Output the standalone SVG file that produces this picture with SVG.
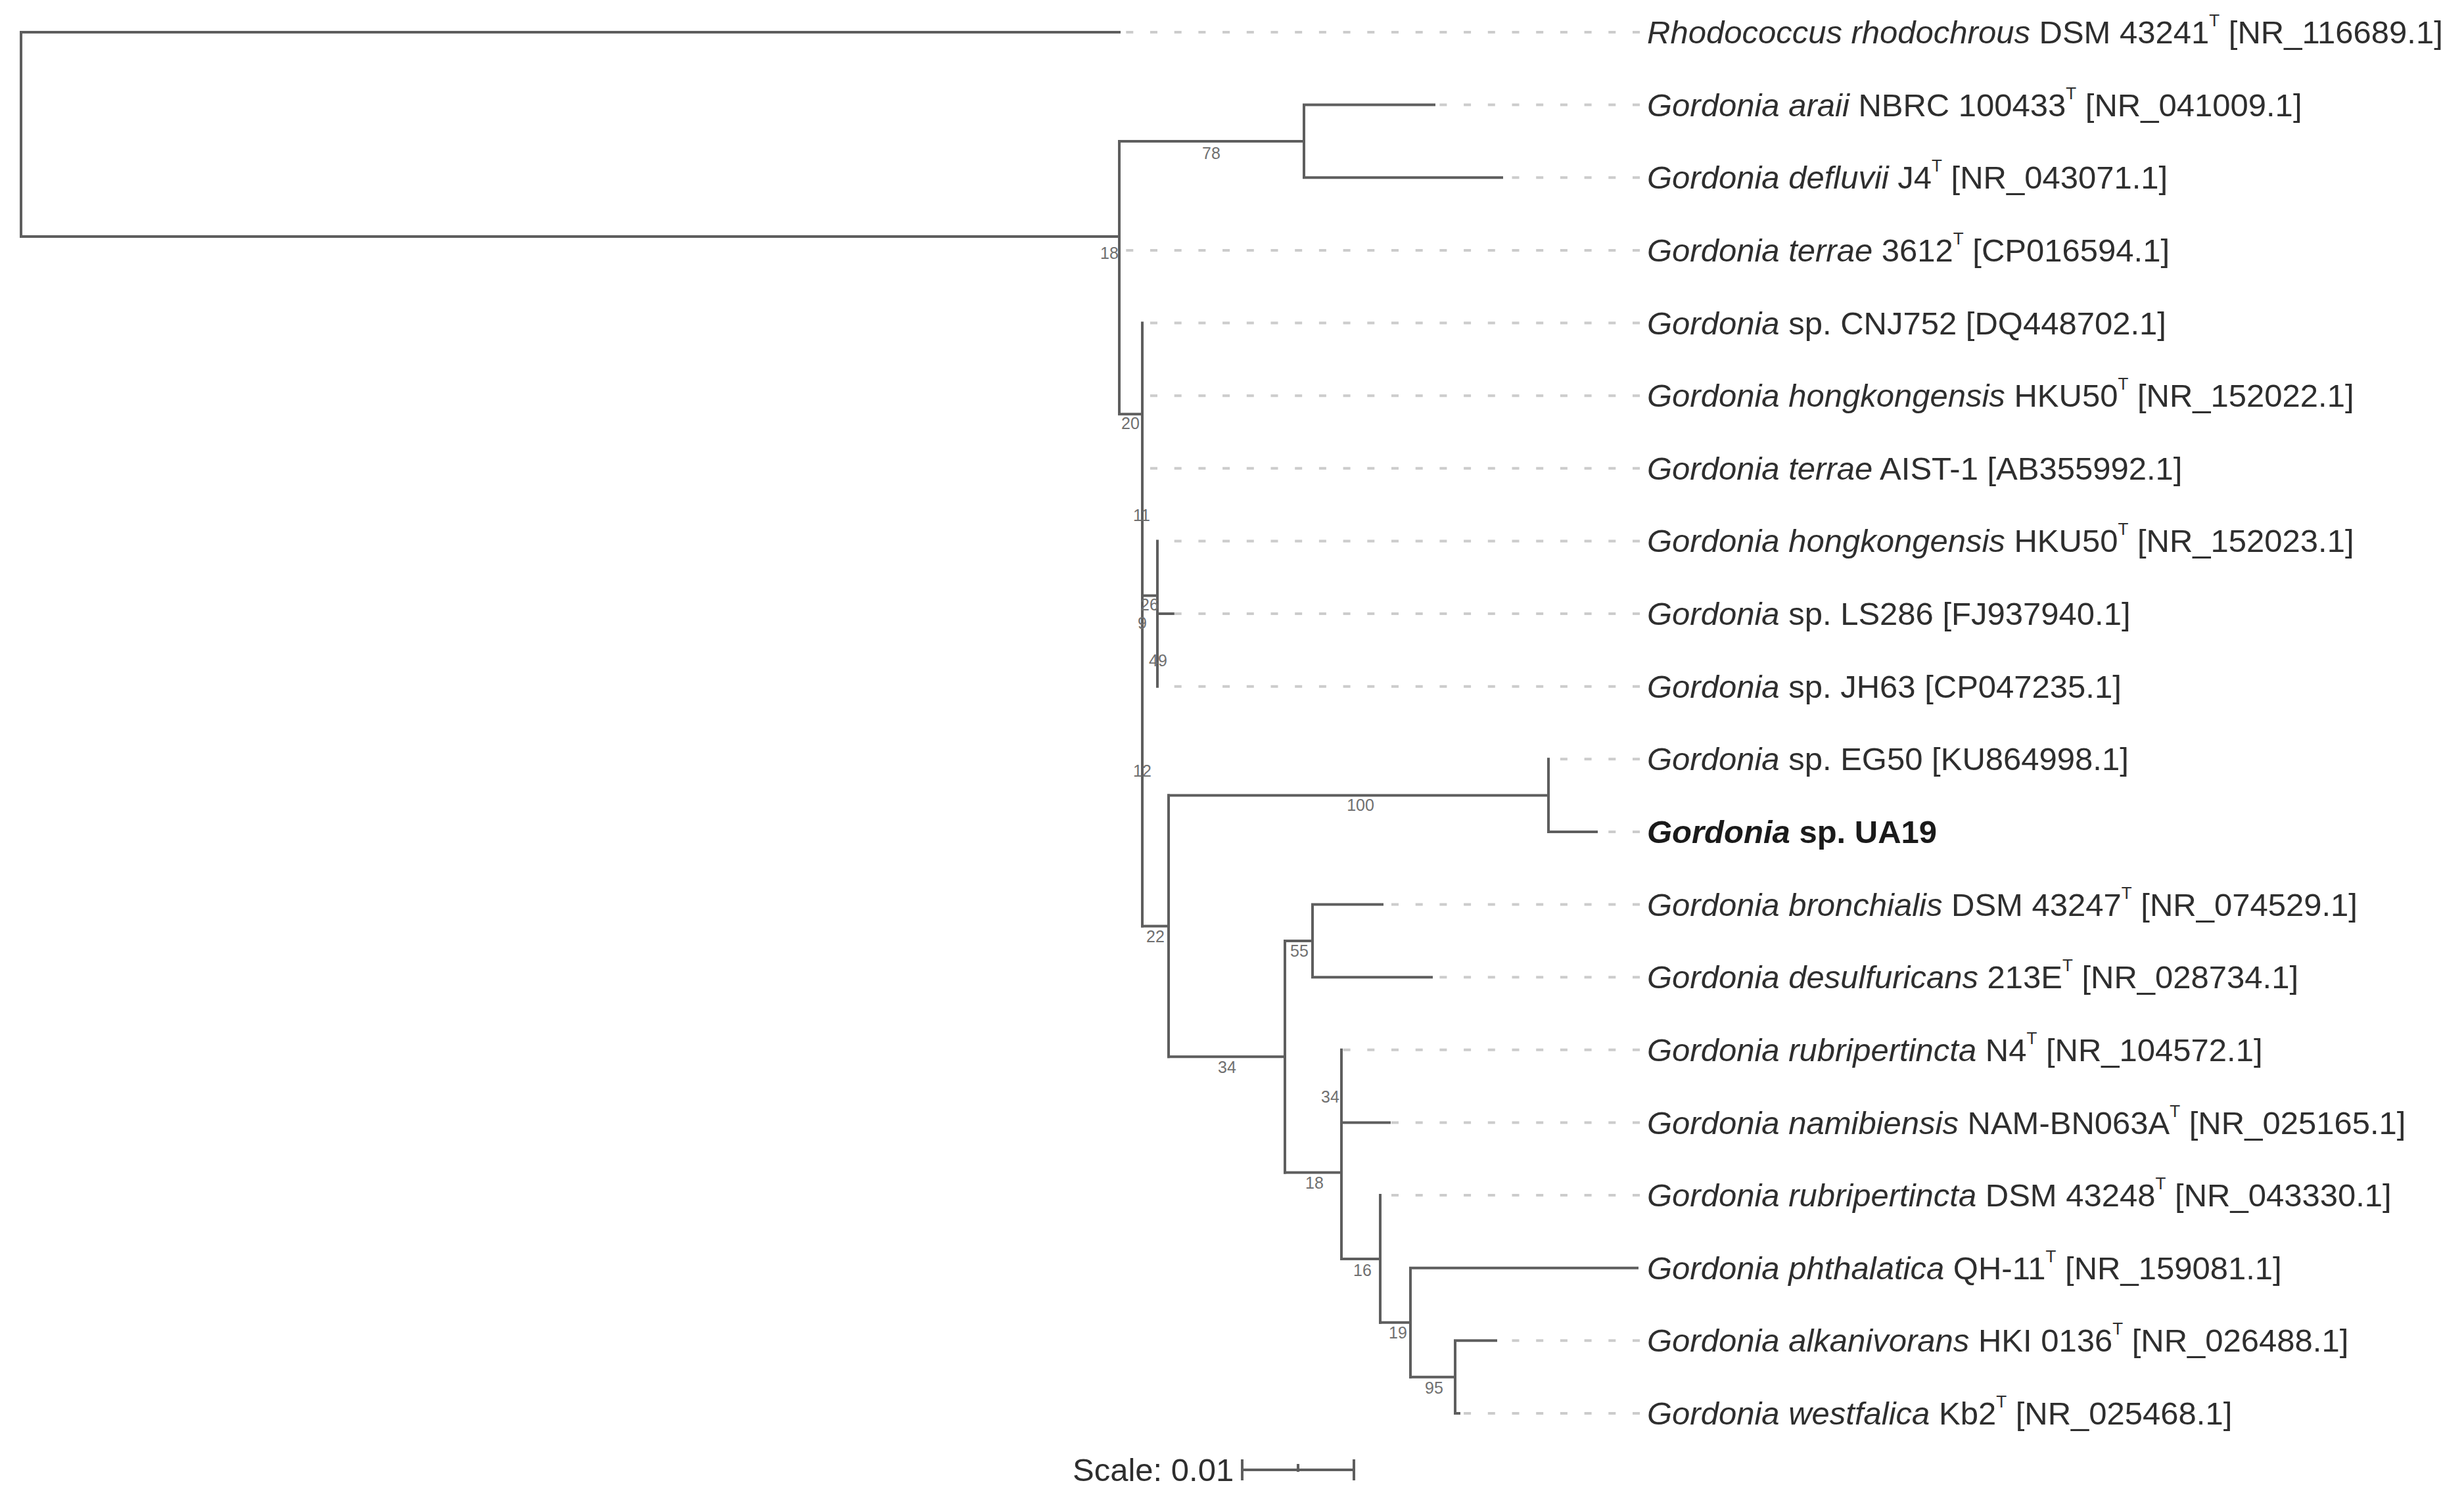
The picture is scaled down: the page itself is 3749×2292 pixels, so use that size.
<svg xmlns="http://www.w3.org/2000/svg" width="3749" height="2292" viewBox="0 0 3749 2292">
<style>
.br{stroke:#5e5e5e;stroke-width:4;fill:none;stroke-linecap:square}
.ld{stroke:#cccccc;stroke-width:4;stroke-dasharray:11 25.7;fill:none}
.lb{font-family:"Liberation Sans",Arial,sans-serif;font-size:49px;fill:#2e2e2e}
.it{font-style:italic}
.bd{font-weight:bold;fill:#1a1a1a}
.sup{font-size:26px}
.bs{font-family:"Liberation Sans",Arial,sans-serif;font-size:25px;fill:#707070;text-anchor:middle}
</style>
<rect width="3749" height="2292" fill="#ffffff"/>
<g id="connectors">
<path class="br" d="M32,49 V360 M32,49 H1703 M32,360 H1703"/>
<path class="br" d="M1703,215 V630"/>
<path class="br" d="M1703,215 H1984 M1984,159.6 V270.3 M1984,159.6 H2182 M1984,270.3 H2285"/>
<path class="br" d="M1703,630.2 H1738 M1738,491.5 V1409.4"/>
<path class="br" d="M1738,906.4 H1761 M1761,823.4 V1044.7 M1761,934 H1785"/>
<path class="br" d="M1738,1409.4 H1778 M1778,1210.6 V1608.2"/>
<path class="br" d="M1778,1210.6 H2356 M2356,1155.3 V1265.9 M2356,1265.9 H2429"/>
<path class="br" d="M1778,1608.2 H1955 M1955,1431.9 V1784.5"/>
<path class="br" d="M1955,1431.9 H1997 M1997,1376.6 V1487.2 M1997,1376.6 H2103 M1997,1487.2 H2178"/>
<path class="br" d="M1955,1784.5 H2041 M2041,1597.8 V1915.9 M2041,1708.5 H2114"/>
<path class="br" d="M2041,1915.9 H2100 M2100,1819.1 V2012.7"/>
<path class="br" d="M2100,2012.7 H2146 M2146,1929.7 V2095.7 M2146,1929.7 H2491"/>
<path class="br" d="M2146,2095.7 H2214 M2214,2040.3 V2151 M2214,2040.3 H2276 M2214,2151 H2220"/>
<path class="ld" d="M2495,49 H1703 M2495,159.6 H2182 M2495,270.3 H2285 M2495,380.9 H1703 M2495,491.5 H1738 M2495,602.2 H1738 M2495,712.8 H1738 M2495,823.4 H1761 M2495,934 H1785 M2495,1044.7 H1761 M2495,1155.3 H2356 M2495,1265.9 H2429 M2495,1376.6 H2103 M2495,1487.2 H2178 M2495,1597.8 H2041 M2495,1708.5 H2114 M2495,1819.1 H2100 M2495,2040.3 H2276 M2495,2151 H2220"/>
</g>
<g id="support">
<text class="bs" x="1688" y="394">18</text>
<text class="bs" x="1843" y="242">78</text>
<text class="bs" x="1720" y="653">20</text>
<text class="bs" x="1737" y="793">11</text>
<text class="bs" x="1749" y="929">26</text>
<text class="bs" x="1738" y="957">9</text>
<text class="bs" x="1762" y="1014">49</text>
<text class="bs" x="1738" y="1182">12</text>
<text class="bs" x="2070" y="1234">100</text>
<text class="bs" x="1758" y="1434">22</text>
<text class="bs" x="1977" y="1456">55</text>
<text class="bs" x="1867" y="1633">34</text>
<text class="bs" x="2024" y="1678">34</text>
<text class="bs" x="2000" y="1809">18</text>
<text class="bs" x="2073" y="1942">16</text>
<text class="bs" x="2127" y="2037">19</text>
<text class="bs" x="2182" y="2121">95</text>
</g>
<g id="leaf0"><text class="lb" x="2506" y="66"><tspan class="it">Rhodococcus rhodochrous</tspan> DSM 43241<tspan class="sup" dy="-26">T</tspan><tspan dy="26"> [NR_116689.1]</tspan></text></g>
<g id="leaf1"><text class="lb" x="2506" y="176.6"><tspan class="it">Gordonia araii</tspan> NBRC 100433<tspan class="sup" dy="-26">T</tspan><tspan dy="26"> [NR_041009.1]</tspan></text></g>
<g id="leaf2"><text class="lb" x="2506" y="287.3"><tspan class="it">Gordonia defluvii</tspan> J4<tspan class="sup" dy="-26">T</tspan><tspan dy="26"> [NR_043071.1]</tspan></text></g>
<g id="leaf3"><text class="lb" x="2506" y="397.9"><tspan class="it">Gordonia terrae</tspan> 3612<tspan class="sup" dy="-26">T</tspan><tspan dy="26"> [CP016594.1]</tspan></text></g>
<g id="leaf4"><text class="lb" x="2506" y="508.5"><tspan class="it">Gordonia</tspan> sp. CNJ752 [DQ448702.1]</text></g>
<g id="leaf5"><text class="lb" x="2506" y="619.2"><tspan class="it">Gordonia hongkongensis</tspan> HKU50<tspan class="sup" dy="-26">T</tspan><tspan dy="26"> [NR_152022.1]</tspan></text></g>
<g id="leaf6"><text class="lb" x="2506" y="729.8"><tspan class="it">Gordonia terrae</tspan> AIST-1 [AB355992.1]</text></g>
<g id="leaf7"><text class="lb" x="2506" y="840.4"><tspan class="it">Gordonia hongkongensis</tspan> HKU50<tspan class="sup" dy="-26">T</tspan><tspan dy="26"> [NR_152023.1]</tspan></text></g>
<g id="leaf8"><text class="lb" x="2506" y="951"><tspan class="it">Gordonia</tspan> sp. LS286 [FJ937940.1]</text></g>
<g id="leaf9"><text class="lb" x="2506" y="1061.7"><tspan class="it">Gordonia</tspan> sp. JH63 [CP047235.1]</text></g>
<g id="leaf10"><text class="lb" x="2506" y="1172.3"><tspan class="it">Gordonia</tspan> sp. EG50 [KU864998.1]</text></g>
<g id="leaf11"><text class="lb bd" x="2506" y="1282.9"><tspan class="it">Gordonia</tspan> sp. UA19</text></g>
<g id="leaf12"><text class="lb" x="2506" y="1393.6"><tspan class="it">Gordonia bronchialis</tspan> DSM 43247<tspan class="sup" dy="-26">T</tspan><tspan dy="26"> [NR_074529.1]</tspan></text></g>
<g id="leaf13"><text class="lb" x="2506" y="1504.2"><tspan class="it">Gordonia desulfuricans</tspan> 213E<tspan class="sup" dy="-26">T</tspan><tspan dy="26"> [NR_028734.1]</tspan></text></g>
<g id="leaf14"><text class="lb" x="2506" y="1614.8"><tspan class="it">Gordonia rubripertincta</tspan> N4<tspan class="sup" dy="-26">T</tspan><tspan dy="26"> [NR_104572.1]</tspan></text></g>
<g id="leaf15"><text class="lb" x="2506" y="1725.5"><tspan class="it">Gordonia namibiensis</tspan> NAM-BN063A<tspan class="sup" dy="-26">T</tspan><tspan dy="26"> [NR_025165.1]</tspan></text></g>
<g id="leaf16"><text class="lb" x="2506" y="1836.1"><tspan class="it">Gordonia rubripertincta</tspan> DSM 43248<tspan class="sup" dy="-26">T</tspan><tspan dy="26"> [NR_043330.1]</tspan></text></g>
<g id="leaf17"><text class="lb" x="2506" y="1946.7"><tspan class="it">Gordonia phthalatica</tspan> QH-11<tspan class="sup" dy="-26">T</tspan><tspan dy="26"> [NR_159081.1]</tspan></text></g>
<g id="leaf18"><text class="lb" x="2506" y="2057.3"><tspan class="it">Gordonia alkanivorans</tspan> HKI 0136<tspan class="sup" dy="-26">T</tspan><tspan dy="26"> [NR_026488.1]</tspan></text></g>
<g id="leaf19"><text class="lb" x="2506" y="2168"><tspan class="it">Gordonia westfalica</tspan> Kb2<tspan class="sup" dy="-26">T</tspan><tspan dy="26"> [NR_025468.1]</tspan></text></g>
<g id="scale">
<text class="lb" x="1632" y="2254">Scale: 0.01</text>
<path class="br" d="M1890,2237 H2060 M1890,2223 V2251 M2060,2223 V2251 M1975,2230 V2238" stroke-linecap="butt"/>
</g>
</svg>
